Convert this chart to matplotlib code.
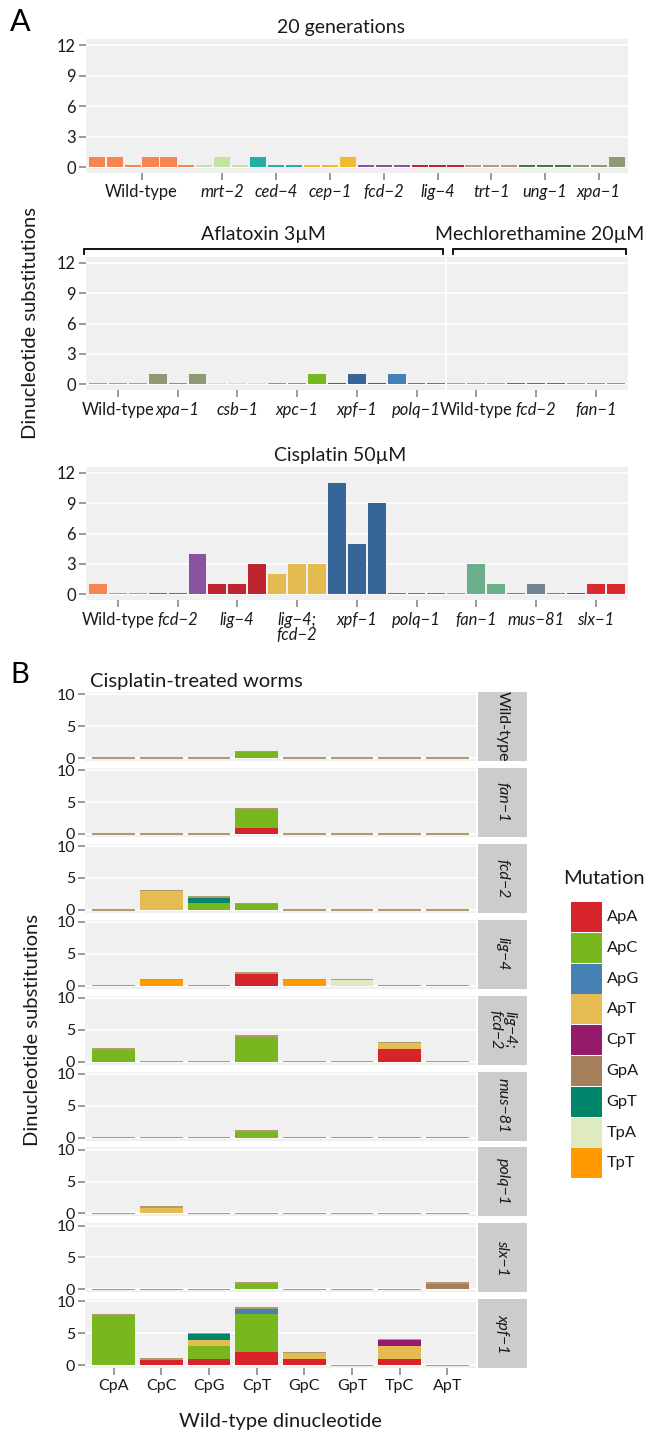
import matplotlib
matplotlib.use('Agg')
import matplotlib.pyplot as plt
import numpy as np
from matplotlib.transforms import blended_transform_factory

plt.rcParams['font.family'] = ['Lato', 'DejaVu Sans']

# ---------------- DATA ----------------
# Panel A, 20 generations
gen_groups = ['Wild-type', 'mrt−2', 'ced−4', 'cep−1', 'fcd−2', 'lig−4', 'trt−1', 'ung−1', 'xpa−1']
gen_values = [[1, 1, 0, 1, 1, 0], [0, 1, 0], [1, 0, 0], [0, 0, 1], [0, 0, 0],
              [0, 0, 0], [0, 0, 0], [0, 0, 0], [0, 0, 1]]
gen_colors = ['#F8844F', '#C2E2A6', '#21B0A8', '#F0B92E', '#8A53A0',
              '#BD2531', '#BC9C6C', '#3D7D3B', '#8E9A74']

# Aflatoxin 3uM
afl_groups = ['Wild-type', 'xpa−1', 'csb−1', 'xpc−1', 'xpf−1', 'polq−1']
afl_values = [[0, 0, 0], [1, 0, 1], [0, 0, 0], [0, 0, 1], [0, 1, 0], [1, 0, 0]]
afl_colors = ['#F8844F', '#8E9A74', '#F5D891', '#78B81F', '#366598', '#4480B4']

# Mechlorethamine 20uM
mech_groups = ['Wild-type', 'fcd−2', 'fan−1']
mech_values = [[0, 0, 0], [0, 0, 0], [0, 0, 0]]
mech_colors = ['#F8844F', '#8A53A0', '#6BAE8B']

# Cisplatin 50uM
cis_groups = ['Wild-type', 'fcd−2', 'lig−4', 'lig−4;\nfcd−2', 'xpf−1', 'polq−1', 'fan−1', 'mus−81', 'slx−1']
cis_values = [[1, 0, 0], [0, 0, 4], [1, 1, 3], [2, 3, 3], [11, 5, 9],
              [0, 0, 0], [0, 3, 1], [0, 1, 0], [0, 1, 1]]
cis_colors = ['#F8844F', '#8A53A0', '#BD2531', '#E3BB50', '#366598',
              '#4480B4', '#6BAE8B', '#718290', '#D92B2F']

# Panel B
dinucleotides = ['CpA', 'CpC', 'CpG', 'CpT', 'GpC', 'GpT', 'TpC', 'ApT']
mutations = ['ApA', 'ApC', 'ApG', 'ApT', 'CpT', 'GpA', 'GpT', 'TpA', 'TpT']
mutation_colors = ['#D7242B', '#79B71F', '#4581B2', '#E4BC52', '#951A6C',
                   '#A57E5C', '#00856A', '#DDEBBE', '#FF9A00']
strains = ['Wild-type', 'fan−1', 'fcd−2', 'lig−4', 'lig−4;\nfcd−2', 'mus−81', 'polq−1', 'slx−1', 'xpf−1']

b_wild_type = {'ApC': [0, 0, 0, 1, 0, 0, 0, 0]}
b_fan1 = {'ApA': [0, 0, 0, 1, 0, 0, 0, 0], 'ApC': [0, 0, 0, 3, 0, 0, 0, 0]}
b_fcd2 = {'ApC': [0, 0, 1, 1, 0, 0, 0, 0], 'ApT': [0, 3, 0, 0, 0, 0, 0, 0],
          'GpT': [0, 0, 1, 0, 0, 0, 0, 0]}
b_lig4 = {'ApA': [0, 0, 0, 2, 0, 0, 0, 0], 'TpA': [0, 0, 0, 0, 0, 1, 0, 0],
          'TpT': [0, 1, 0, 0, 1, 0, 0, 0]}
b_lig4_fcd2 = {'ApA': [0, 0, 0, 0, 0, 0, 2, 0], 'ApC': [2, 0, 0, 4, 0, 0, 0, 0],
               'ApT': [0, 0, 0, 0, 0, 0, 1, 0]}
b_mus81 = {'ApC': [0, 0, 0, 1, 0, 0, 0, 0]}
b_polq1 = {'ApT': [0, 1, 0, 0, 0, 0, 0, 0]}
b_slx1 = {'ApC': [0, 0, 0, 1, 0, 0, 0, 0], 'GpA': [0, 0, 0, 0, 0, 0, 0, 1]}
b_xpf1 = {'ApA': [0, 1, 1, 2, 1, 0, 1, 0], 'ApC': [8, 0, 2, 6, 0, 0, 0, 0],
          'ApG': [0, 0, 0, 1, 0, 0, 0, 0], 'ApT': [0, 0, 1, 0, 1, 0, 2, 0],
          'CpT': [0, 0, 0, 0, 0, 0, 1, 0], 'GpT': [0, 0, 1, 0, 0, 0, 0, 0]}
b_data = [b_wild_type, b_fan1, b_fcd2, b_lig4, b_lig4_fcd2, b_mus81, b_polq1, b_slx1, b_xpf1]

# ---------------- STYLE ----------------
W, H = 645, 1433
BG = '#F0F0F0'
TICKC = '#7F7F7F'
TXT = '#1A1A1A'
ZERO_A = 0.17
ZERO_B = 0.22
CAP_COLOR = '#B09B6E'

fig = plt.figure(figsize=(W / 100, H / 100), dpi=100)


def add_ax(left, top, right, bottom):
    return fig.add_axes([left / W, 1 - bottom / H, (right - left) / W, (bottom - top) / H])


def style(ax, yticks, fs):
    ax.set_facecolor(BG)
    for s in ax.spines.values():
        s.set_visible(False)
    ax.set_yticks(yticks)
    ax.yaxis.grid(True, color='white', lw=1.2)
    ax.set_axisbelow(True)
    ax.tick_params(axis='both', color=TICKC, length=5, width=1.1, labelsize=fs,
                   labelcolor=TXT)
    ax.tick_params(axis='y', pad=2)
    ax.tick_params(axis='x', pad=3)


def draw_groups(ax, groups, values, colors, fs):
    x = 0
    centers = []
    for vals, c in zip(values, colors):
        xs = np.arange(x, x + len(vals))
        h = [v if v > 0 else ZERO_A for v in vals]
        ax.bar(xs, h, width=0.9, color=c, linewidth=0, zorder=3)
        centers.append(xs.mean())
        x += len(vals)
    ax.set_xlim(-0.62, x - 0.38)
    ax.set_xticks(centers)
    ax.set_xticklabels(groups)
    for lab, g in zip(ax.get_xticklabels(), groups):
        lab.set_fontstyle('normal' if g == 'Wild-type' else 'italic')
        lab.set_fontsize(fs)
        lab.set_linespacing(0.95)
    return centers


FS_A = 11.9
yt_A = [0, 3, 6, 9, 12]

# Panel A1
ax1 = add_ax(85.6, 39.4, 628, 173.1)
style(ax1, yt_A, FS_A)
draw_groups(ax1, gen_groups, gen_values, gen_colors, FS_A)
ax1.set_ylim(-0.6, 12.6)
fig.text(341 / W, 1 - 28 / H, '20 generations', ha='center', va='center', fontsize=14, color=TXT)

# Panel A2
ax2 = add_ax(85.6, 256.7, 628, 390.4)
style(ax2, yt_A, FS_A)
draw_groups(ax2, afl_groups + mech_groups, afl_values + mech_values,
            afl_colors + mech_colors, FS_A)
ax2.set_ylim(-0.6, 12.6)
n_afl = sum(len(v) for v in afl_values)
n_mech = sum(len(v) for v in mech_values)
ax2.axvline(n_afl - 0.5, color='white', lw=1.2, zorder=4)
tr = blended_transform_factory(ax2.transData, ax2.transAxes)
for (x0, x1, lab) in [(-0.7, n_afl - 0.65, 'Aflatoxin 3µM'),
                      (n_afl - 0.15, n_afl + n_mech - 0.5, 'Mechlorethamine 20µM')]:
    ax2.plot([x0, x0, x1, x1], [1.02, 1.055, 1.055, 1.02], color='black', lw=1.3,
             transform=tr, clip_on=False, solid_joinstyle='miter')
    ax2.text((x0 + x1) / 2, 1.163, lab, transform=tr, ha='center', va='center',
             fontsize=14, color=TXT)

# Panel A3
ax3 = add_ax(85.6, 466.7, 628, 600.4)
style(ax3, yt_A, FS_A)
draw_groups(ax3, cis_groups, cis_values, cis_colors, FS_A)
ax3.set_ylim(-0.6, 12.6)
fig.text(340 / W, 1 - 455 / H, 'Cisplatin 50µM', ha='center', va='center', fontsize=14, color=TXT)

fig.text(31 / W, 1 - 323 / H, 'Dinucleotide substitutions', rotation=90,
         ha='center', va='center', fontsize=14.5, color=TXT)
fig.text(20 / W, 1 - 22 / H, 'A', ha='center', va='center', fontsize=22, color='black')

# ---------------- Panel B ----------------
FS_B = 11.5
xb = np.arange(len(dinucleotides))
for k, (strain, d) in enumerate(zip(strains, b_data)):
    top = 692 + 75.9 * k
    bot = top + 69
    ax = add_ax(85, top, 476, bot)
    style(ax, [0, 5, 10], FS_B)
    bottom = np.zeros(len(dinucleotides))
    for m, c in zip(mutations, mutation_colors):
        if m in d:
            v = np.array(d[m], dtype=float)
            ax.bar(xb, v, bottom=bottom, width=0.9, color=c, linewidth=0, zorder=3)
            bottom += v
    ax.bar(xb, [ZERO_B] * len(xb), bottom=bottom - ZERO_B / 2, width=0.9,
           color=CAP_COLOR, linewidth=0, zorder=3)
    ax.set_xlim(-0.6, 7.6)
    ax.set_ylim(-0.47, 10.36)
    ax.set_xticks(xb)
    if k == len(strains) - 1:
        ax.set_xticklabels(dinucleotides, fontsize=FS_B)
    else:
        ax.tick_params(axis='x', bottom=False, labelbottom=False)
    sax = add_ax(478, top, 527, bot)
    sax.set_facecolor('#CCCCCC')
    for s in sax.spines.values():
        s.set_visible(False)
    sax.set_xticks([])
    sax.set_yticks([])
    sax.text(0.5, 0.5, strain, rotation=270, ha='center', va='center', fontsize=FS_B,
             color=TXT, fontstyle='normal' if strain == 'Wild-type' else 'italic',
             linespacing=0.95, transform=sax.transAxes)

fig.text(19.5 / W, 1 - 675 / H, 'B', ha='center', va='center', fontsize=21, color='black')
fig.text(90 / W, 1 - 681 / H, 'Cisplatin-treated worms', ha='left', va='center',
         fontsize=14.5, color=TXT)
fig.text(33 / W, 1 - 1030 / H, 'Dinucleotide substitutions', rotation=90,
         ha='center', va='center', fontsize=14.5, color=TXT)
fig.text(280 / W, 1 - 1421.7 / H, 'Wild-type dinucleotide', ha='center', va='center',
         fontsize=14.5, color=TXT)

# Legend
key_top = 901.6
key_h = 30.8
lax = add_ax(571, key_top, 602, key_top + key_h * len(mutations))
lax.set_xlim(0, 1)
lax.set_ylim(len(mutations), 0)
lax.axis('off')
lax.bar([0.5] * len(mutations), [0.97] * len(mutations), bottom=np.arange(len(mutations)) + 0.015,
        width=1.0, color=mutation_colors, linewidth=0)
for i, m in enumerate(mutations):
    lax.text(1.15, i + 0.5, m, ha='left', va='center', fontsize=11.8, color=TXT,
             transform=lax.transData, clip_on=False)
fig.text(563 / W, 1 - 878 / H, 'Mutation', ha='left', va='center', fontsize=14.5, color=TXT)

fig.savefig('out.png', dpi=100)
